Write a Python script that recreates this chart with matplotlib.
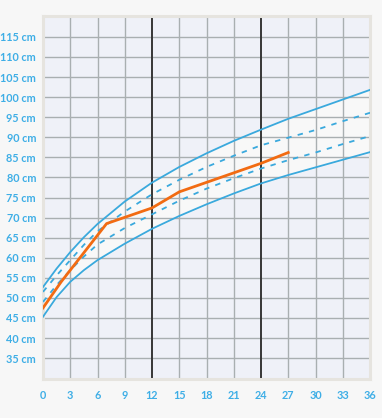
import numpy as np
import matplotlib
matplotlib.use('Agg')
import matplotlib.pyplot as plt

# months at which the reference curves were read
months = [0, 1.5, 3, 4.5, 6, 9, 12, 15, 18, 21, 24, 27, 30, 33, 36]
upper_solid = [52.7, 57.3, 61.4, 65.1, 68.4, 74.0, 78.7, 82.6, 86.0, 89.1, 91.9, 94.6, 97.0, 99.4, 101.8]
upper_dash = [51.5, 55.6, 59.4, 63.2, 66.6, 71.5, 75.8, 79.4, 82.6, 85.4, 88.0, 89.9, 91.8, 94.0, 96.1]
lower_dash = [49.0, 53.2, 56.9, 60.3, 63.3, 67.4, 70.8, 74.2, 77.2, 79.8, 82.2, 84.3, 86.2, 88.3, 90.3]
lower_solid = [45.3, 50.2, 54.0, 56.9, 59.4, 63.5, 67.2, 70.4, 73.3, 76.0, 78.5, 80.6, 82.5, 84.4, 86.3]

# measured length of the child
child_months = [0, 2, 7, 12, 15, 24, 27]
child_cm = [47.5, 54.0, 68.5, 72.4, 76.4, 83.5, 86.2]

xticks = list(range(0, 37, 3))
yticks = list(range(35, 116, 5))
ylabels = [str(v) + ' cm' for v in yticks]

blue = '#3aa9dd'
label_blue = '#3eaee6'

fig = plt.figure(figsize=(3.82, 4.18), dpi=100)
fig.patch.set_facecolor('#f7f7f7')
ax = fig.add_axes([43/382, (418-379)/418, 327/382, 363/418])
ax.set_facecolor('#eff1f8')

ax.fill_between(months, lower_solid, upper_solid, color='#f8f8f8', zorder=1)
for v in yticks:
    ax.axhline(v, color='#a9afb1', lw=1, zorder=2)
for m in xticks[1:-1]:
    if m in (12, 24):
        ax.axvline(m, color='#363636', lw=1.4, zorder=2)
    else:
        ax.axvline(m, color='#a9afb1', lw=1, zorder=2)

ax.plot(months, upper_solid, color=blue, lw=1.3, zorder=3)
ax.plot(months, lower_solid, color=blue, lw=1.3, zorder=3)
ax.plot(months, upper_dash, color=blue, lw=1.3, dashes=(3, 3.5), zorder=3)
ax.plot(months, lower_dash, color=blue, lw=1.3, dashes=(3, 3.5), zorder=3)
ax.plot(child_months, child_cm, color='#f26b12', lw=2, zorder=4, solid_joinstyle='round')

ax.set_xlim(0, 36)
ax.set_ylim(29.8, 120.2)
ax.set_xticks(xticks)
ax.set_yticks(yticks)
ax.set_yticklabels(ylabels)
ax.tick_params(length=0, labelsize=7.8, labelcolor=label_blue, pad=5)
ax.tick_params(axis='x', pad=8)
for lab in ax.get_xticklabels() + ax.get_yticklabels():
    lab.set_fontfamily('Lato')
    lab.set_fontweight('bold')
for s in ax.spines.values():
    s.set_color('#e6e4df')
    s.set_linewidth(2.2)

fig.savefig('out.png', dpi=100, facecolor=fig.get_facecolor())
